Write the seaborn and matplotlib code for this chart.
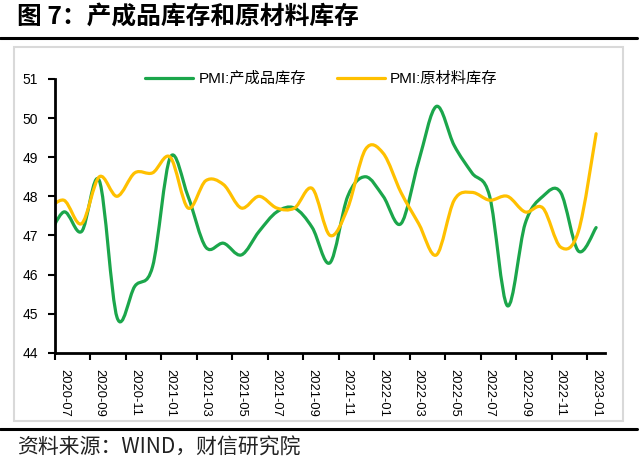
import numpy as np
import pandas as pd
import seaborn as sns
import matplotlib.pyplot as plt
from matplotlib.path import Path
from matplotlib.patches import PathPatch, Rectangle
from matplotlib.lines import Line2D

# ******************
# data
# ******************
months = [
    '2020-06', '2020-07', '2020-08', '2020-09', '2020-10', '2020-11', '2020-12',
    '2021-01', '2021-02', '2021-03', '2021-04', '2021-05', '2021-06',
    '2021-07', '2021-08', '2021-09', '2021-10', '2021-11', '2021-12',
    '2022-01', '2022-02', '2022-03', '2022-04', '2022-05', '2022-06',
    '2022-07', '2022-08', '2022-09', '2022-10', '2022-11', '2022-12',
    '2023-01',
]
finished_inv = [46.8, 47.6, 47.1, 48.4, 44.9, 45.7, 46.2,
                49.0, 48.0, 46.7, 46.8, 46.5, 47.1,
                47.6, 47.7, 47.2, 46.3, 48.0, 48.5,
                48.0, 47.3, 48.9, 50.3, 49.3, 48.6,
                48.0, 45.2, 47.3, 48.0, 48.1, 46.6,
                47.2]
raw_inv = [47.6, 47.9, 47.3, 48.5, 48.0, 48.6, 48.6,
           49.0, 47.7, 48.4, 48.3, 47.7, 48.0,
           47.7, 47.7, 48.2, 47.0, 47.7, 49.2,
           49.1, 48.1, 47.3, 46.5, 47.9, 48.1,
           47.9, 48.0, 47.6, 47.7, 46.7, 47.1,
           49.6]
series_names = ['PMI:产成品库存', 'PMI:原材料库存']
colors = ['#1BA64B', '#FFC000']
tick_labels = months[1::2]

df = pd.DataFrame({
    'idx': np.arange(len(months)),
    series_names[0]: finished_inv,
    series_names[1]: raw_inv,
})
long_df = df.melt(id_vars='idx', var_name='series', value_name='value')


# excel-style smoothed line (bezier through the data points)
def smooth_path(xy):
    n = len(xy)
    verts = [xy[0]]
    codes = [Path.MOVETO]
    for i in range(n - 1):
        p0 = xy[max(i - 1, 0)]
        p1 = xy[i]
        p2 = xy[i + 1]
        p3 = xy[min(i + 2, n - 1)]
        verts += [p1 + (p2 - p0) / 6, p2 - (p3 - p1) / 6, p2]
        codes += [Path.CURVE4] * 3
    return Path(verts, codes)


# ******************
# plot
# ******************
sns.set_theme(style='white')
plt.rcParams['font.family'] = ['Liberation Sans', 'Noto Sans CJK SC']

fig = plt.figure(figsize=(6.4, 4.63), dpi=100)
ax = fig.add_axes([0.0859, 0.2382, 0.8594, 0.5912])

sns.lineplot(data=long_df, x='idx', y='value', hue='series',
             palette=colors, linewidth=2.3, ax=ax, legend=False)

for line, name in zip(ax.lines, series_names):
    line.set_label(name)

leg = ax.legend(handles=ax.lines[:2], loc='center', bbox_to_anchor=(0.4845, 1.0),
                ncol=2, frameon=False, fontsize=11, handlelength=3.15,
                handletextpad=0.35, columnspacing=2.0)
for t in leg.get_texts():
    t.set_color('black')

for line in ax.lines[:2]:
    xy = line.get_xydata()
    ax.add_patch(PathPatch(smooth_path(xy), fill=False,
                           edgecolor=line.get_color(), lw=2.3,
                           capstyle='round', joinstyle='round'))
    line.set_visible(False)

ax.set_xlim(0.5, len(months) - 0.5)
ax.set_ylim(44, 51)
ax.set_yticks(range(44, 52))
ax.set_xticks(np.arange(0.5, len(months) - 0.5, 2))
ax.set_xticklabels([])
ax.set_xticks(np.arange(1, len(months), 2), minor=True)
ax.set_xticklabels(tick_labels, minor=True, rotation=270)
ax.set_xlabel('')
ax.set_ylabel('')

ax.tick_params(axis='y', which='major', direction='out', length=5, width=1.5,
               color='black', labelcolor='black', labelsize=10, pad=7, left=True)
ax.tick_params(axis='x', which='major', direction='out', length=5, width=1.5,
               color='black', bottom=True)
ax.tick_params(axis='x', which='minor', length=0, labelsize=9.3, pad=11.5,
               labelcolor='black', bottom=True)

sns.despine(ax=ax)
for side in ['left', 'bottom']:
    ax.spines[side].set_color('black')
    ax.spines[side].set_linewidth(2)

# page decorations
fig.text(17 / 640, 1 - 18 / 463, '图 7：产成品库存和原材料库存',
         fontsize=17.8, fontweight='bold', va='center', ha='left',
         color='black', family=['Noto Sans CJK SC'])
fig.add_artist(Line2D([0, 637 / 640], [1 - 38 / 463] * 2,
                      transform=fig.transFigure, color='black', lw=2.2))
fig.add_artist(Rectangle((14 / 640, 1 - 421 / 463), (623 - 14) / 640,
                         (421 - 47) / 463, transform=fig.transFigure,
                         fill=False, edgecolor='#d9d9d9', lw=1.5))
fig.add_artist(Line2D([0, 637 / 640], [1 - 429 / 463] * 2,
                      transform=fig.transFigure, color='black', lw=2.2))
fig.text(17 / 640, 1 - 448 / 463, '资料来源：WIND，财信研究院',
         fontsize=15, va='center', ha='left', color='#222222',
         family=['Noto Sans CJK SC'])

plt.savefig('out.png', dpi=100)
